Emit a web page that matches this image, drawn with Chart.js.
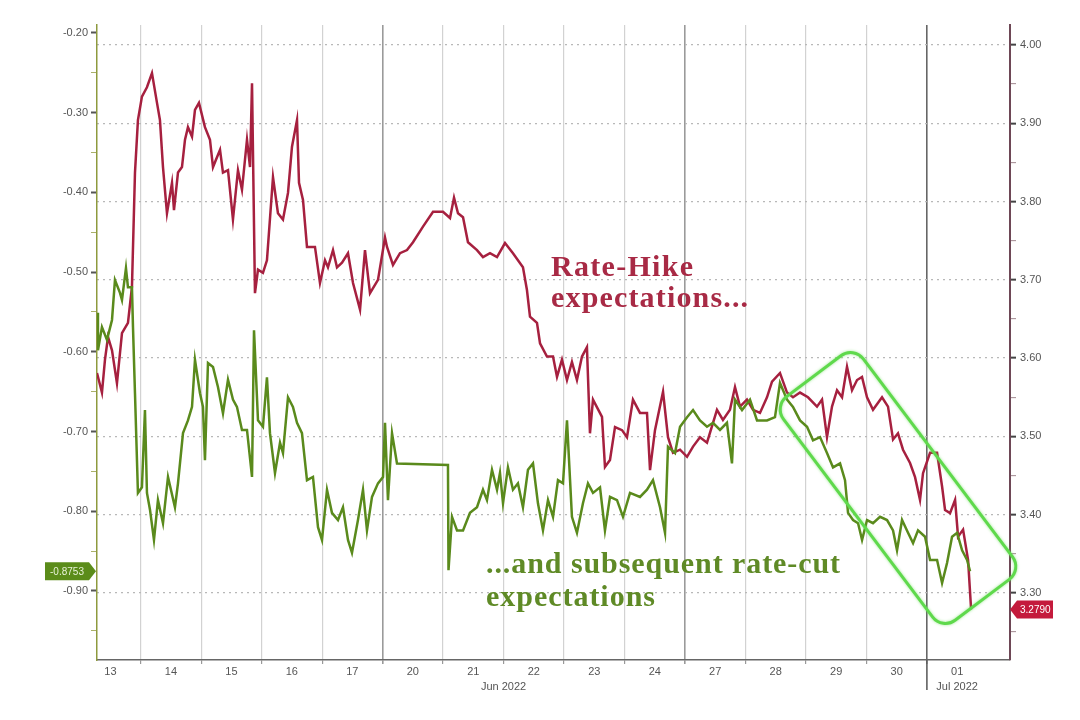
<!DOCTYPE html>
<html>
<head>
<meta charset="utf-8">
<script src="https://cdn.jsdelivr.net/npm/chart.js@4.4.1/dist/chart.umd.min.js"></script>
<style>
  html, body { margin: 0; padding: 0; background: #ffffff; }
  #wrap { position: relative; width: 1080px; height: 720px; }
</style>
</head>
<body>
<div id="wrap"><canvas id="c"></canvas></div>
<script>
// ---- Data (x = trading-day position, 0 = start of 13 Jun) ----
const dayLabels = ['13','14','15','16','17','20','21','22','23','24','27','28','29','30','01'];
const monthLabels = ['Jun 2022', 'Jul 2022'];
const monthLabelDayPos = [7, 14.5];
const monthBoundary = 14;
const weekBoundaries = [5, 10];

const leftTickLabels = [-0.20, -0.30, -0.40, -0.50, -0.60, -0.70, -0.80, -0.90];
const rightTickLabels = [4.00, 3.90, 3.80, 3.70, 3.60, 3.50, 3.40, 3.30];

// Rate-hike expectations (right axis)
const redT = [0.278,0.360,0.410,0.460,0.526,0.608,0.691,0.790,0.856,0.906,
0.955,1.021,1.104,1.187,1.270,1.319,1.369,1.435,1.518,1.551,
1.617,1.683,1.733,1.782,1.849,1.898,1.964,2.063,2.146,2.196,
2.312,2.361,2.444,2.526,2.609,2.675,2.758,2.808,2.841,2.890,
2.940,3.022,3.088,3.188,3.270,3.353,3.436,3.502,3.585,3.618,
3.684,3.750,3.882,3.965,4.048,4.097,4.180,4.246,4.329,4.428,
4.511,4.627,4.709,4.792,4.924,5.040,5.073,5.172,5.288,5.404,
5.503,5.668,5.834,5.999,6.115,6.181,6.247,6.330,6.412,6.561,
6.660,6.776,6.892,7.024,7.156,7.321,7.387,7.437,7.553,7.603,
7.718,7.818,7.884,7.966,8.049,8.131,8.214,8.297,8.379,8.429,
8.479,8.628,8.677,8.760,8.843,8.959,9.041,9.140,9.256,9.372,
9.422,9.504,9.637,9.719,9.802,9.918,10.034,10.133,10.248,10.364,
10.529,10.628,10.744,10.827,10.910,11.025,11.125,11.240,11.356,11.439,
11.571,11.687,11.786,11.902,12.034,12.183,12.266,12.348,12.431,12.514,
12.597,12.679,12.762,12.845,12.927,13.010,13.109,13.258,13.357,13.440,
13.522,13.605,13.721,13.804,13.886,13.936,14.052,14.168,14.251,14.300,
14.383,14.466,14.515,14.598,14.681,14.731];
const redV = [3.581,3.556,3.598,3.627,3.610,3.568,3.632,3.645,3.691,3.837,
3.904,3.934,3.946,3.964,3.926,3.904,3.844,3.785,3.824,3.789,
3.837,3.844,3.879,3.895,3.883,3.917,3.926,3.895,3.879,3.844,
3.866,3.837,3.840,3.777,3.840,3.815,3.879,3.844,3.951,3.683,
3.713,3.709,3.725,3.831,3.785,3.777,3.811,3.870,3.904,3.824,
3.802,3.742,3.742,3.696,3.725,3.716,3.738,3.716,3.722,3.734,
3.696,3.662,3.738,3.683,3.700,3.754,3.742,3.719,3.734,3.738,
3.748,3.768,3.787,3.787,3.779,3.805,3.785,3.780,3.748,3.738,
3.729,3.734,3.729,3.747,3.734,3.716,3.687,3.653,3.645,3.619,
3.602,3.602,3.576,3.598,3.572,3.595,3.572,3.602,3.614,3.504,
3.547,3.525,3.461,3.470,3.512,3.508,3.499,3.547,3.530,3.530,
3.457,3.508,3.557,3.499,3.479,3.483,3.474,3.487,3.499,3.492,
3.534,3.521,3.534,3.563,3.538,3.547,3.534,3.530,3.550,3.570,
3.581,3.556,3.550,3.556,3.550,3.538,3.547,3.499,3.538,3.559,
3.550,3.589,3.559,3.572,3.576,3.550,3.534,3.550,3.538,3.496,
3.504,3.483,3.466,3.448,3.419,3.453,3.479,3.479,3.436,3.406,
3.402,3.419,3.372,3.381,3.342,3.279];

// Subsequent rate-cut expectations (left axis)
const greenT = [0.278,0.294,0.360,0.443,0.526,0.575,0.658,0.691,0.757,0.790,
0.856,0.873,0.906,0.955,1.021,1.071,1.104,1.154,1.220,1.286,
1.369,1.452,1.567,1.617,1.700,1.782,1.849,1.898,1.981,2.030,
2.063,2.113,2.196,2.278,2.361,2.444,2.526,2.592,2.675,2.758,
2.841,2.874,2.940,3.022,3.088,3.138,3.221,3.304,3.353,3.436,
3.518,3.585,3.667,3.750,3.849,3.932,3.998,4.081,4.163,4.263,
4.345,4.428,4.494,4.593,4.676,4.742,4.825,4.924,5.007,5.040,
5.089,5.156,5.238,6.081,6.090,6.148,6.231,6.330,6.445,6.561,
6.660,6.726,6.809,6.892,6.941,6.991,7.073,7.156,7.238,7.321,
7.404,7.487,7.569,7.652,7.735,7.818,7.900,7.983,8.049,8.131,
8.214,8.313,8.396,8.479,8.595,8.677,8.760,8.876,8.975,9.091,
9.256,9.372,9.471,9.587,9.670,9.719,9.835,9.918,10.034,10.133,
10.248,10.364,10.463,10.579,10.694,10.777,10.827,10.943,11.075,11.191,
11.356,11.488,11.571,11.687,11.786,11.902,12.018,12.117,12.233,12.348,
12.448,12.564,12.646,12.696,12.779,12.862,12.928,13.010,13.109,13.225,
13.341,13.440,13.506,13.589,13.688,13.771,13.853,13.969,14.052,14.168,
14.251,14.333,14.416,14.499,14.582,14.664,14.714];
const greenV = [-0.551,-0.598,-0.569,-0.585,-0.560,-0.510,-0.526,-0.535,-0.495,-0.519,
-0.519,-0.569,-0.652,-0.777,-0.770,-0.673,-0.777,-0.798,-0.836,-0.786,
-0.815,-0.757,-0.795,-0.765,-0.702,-0.686,-0.669,-0.610,-0.652,-0.669,
-0.736,-0.614,-0.619,-0.644,-0.677,-0.635,-0.660,-0.669,-0.698,-0.698,
-0.757,-0.573,-0.686,-0.694,-0.632,-0.702,-0.752,-0.714,-0.727,-0.657,
-0.669,-0.689,-0.702,-0.761,-0.757,-0.820,-0.836,-0.773,-0.802,-0.811,
-0.795,-0.836,-0.852,-0.811,-0.773,-0.824,-0.782,-0.765,-0.757,-0.689,
-0.786,-0.702,-0.740,-0.742,-0.874,-0.807,-0.824,-0.824,-0.802,-0.795,
-0.773,-0.786,-0.748,-0.773,-0.752,-0.790,-0.745,-0.773,-0.765,-0.795,
-0.748,-0.740,-0.790,-0.824,-0.786,-0.807,-0.761,-0.765,-0.686,-0.807,
-0.827,-0.790,-0.765,-0.777,-0.770,-0.824,-0.782,-0.786,-0.807,-0.777,
-0.782,-0.773,-0.761,-0.795,-0.827,-0.719,-0.727,-0.694,-0.682,-0.673,
-0.686,-0.694,-0.689,-0.698,-0.689,-0.740,-0.660,-0.673,-0.660,-0.686,
-0.686,-0.682,-0.639,-0.660,-0.669,-0.686,-0.694,-0.711,-0.707,-0.727,
-0.745,-0.740,-0.761,-0.802,-0.811,-0.815,-0.836,-0.811,-0.815,-0.807,
-0.811,-0.824,-0.849,-0.811,-0.827,-0.840,-0.824,-0.832,-0.861,-0.861,
-0.890,-0.865,-0.832,-0.827,-0.849,-0.861,-0.8753];

const redLast = '3.2790';
const greenLast = '-0.8753';
const redNote = ['Rate-Hike', 'expectations...'];
const greenNote = ['...and subsequent rate-cut', 'expectations'];

// ---- Build ----
const RED = '#a6203f';
const GREEN = '#5a8a1c';
const TICKFONT = { family: 'Liberation Sans, Arial, sans-serif', size: 11 };

function withMinor(major) {
  const out = major.slice();
  for (let i = 0; i < major.length - 1; i++) out.push((major[i] + major[i + 1]) / 2);
  out.push(major[major.length - 1] - (major[0] - major[1]) / 2);
  return out;
}
const isMajor = (v, arr) => arr.some(a => Math.abs(a - v) < 1e-6);

const xTickVals = [];
for (let i = 0; i < dayLabels.length; i++) {
  if (i > 0) xTickVals.push(i);
  xTickVals.push(i + 0.5);
}

const overlay = {
  id: 'overlay',
  afterDraw(chart) {
    const ctx = chart.ctx;
    const xs = chart.scales.x, yL = chart.scales.yL, yR = chart.scales.yR;
    const area = chart.chartArea;
    ctx.save();
    // long tick at month boundary
    const mx = xs.getPixelForValue(monthBoundary);
    ctx.strokeStyle = '#555'; ctx.lineWidth = 1.5;
    ctx.beginPath(); ctx.moveTo(mx, xs.top); ctx.lineTo(mx, xs.top + 30); ctx.stroke();

    // last value tags
    const gy = yL.getPixelForValue(greenV[greenV.length - 1]);
    const lx = area.left;
    ctx.fillStyle = '#5b8c1a';
    ctx.beginPath();
    ctx.moveTo(lx - 1, gy); ctx.lineTo(lx - 8, gy - 9); ctx.lineTo(lx - 52, gy - 9);
    ctx.lineTo(lx - 52, gy + 9); ctx.lineTo(lx - 8, gy + 9); ctx.closePath(); ctx.fill();
    ctx.fillStyle = '#e8f2d8'; ctx.font = '10px Liberation Sans, Arial, sans-serif';
    ctx.textAlign = 'center'; ctx.textBaseline = 'middle';
    ctx.fillText(greenLast, lx - 30, gy + 0.5);

    const ry = yR.getPixelForValue(redV[redV.length - 1]);
    const rx = area.right;
    ctx.save();
    ctx.beginPath(); ctx.rect(rx, ry - 20, 43, 40); ctx.clip();
    ctx.fillStyle = '#c41a3c';
    ctx.beginPath();
    ctx.moveTo(rx, ry); ctx.lineTo(rx + 7, ry - 9); ctx.lineTo(rx + 52, ry - 9);
    ctx.lineTo(rx + 52, ry + 9); ctx.lineTo(rx + 7, ry + 9); ctx.closePath(); ctx.fill();
    ctx.fillStyle = '#ffffff'; ctx.textAlign = 'left';
    ctx.fillText(redLast, rx + 10, ry + 0.5);
    ctx.restore();

    // annotation texts (serif, spaced out to the reference widths)
    const serif = 'Liberation Serif, Times New Roman, serif';
    function drawSpaced(text, x, y, target, size) {
      ctx.font = 'bold ' + size + 'px ' + serif;
      ctx.letterSpacing = '0px';
      const w = ctx.measureText(text).width;
      const sp = Math.max(0, (target - w) / Math.max(1, text.length - 1));
      ctx.letterSpacing = sp.toFixed(2) + 'px';
      ctx.fillText(text, x, y);
      ctx.letterSpacing = '0px';
    }
    ctx.textAlign = 'left'; ctx.textBaseline = 'alphabetic';
    ctx.fillStyle = '#a82a45';
    drawSpaced(redNote[0], 551, 276, 142, 30);
    drawSpaced(redNote[1], 551, 307, 197, 30);
    ctx.fillStyle = '#5f8a26';
    drawSpaced(greenNote[0], 486, 573, 354, 30);
    drawSpaced(greenNote[1], 486, 606, 169, 30);

    // highlight box
    ctx.translate(898, 488);
    ctx.rotate(53 * Math.PI / 180);
    ctx.strokeStyle = '#5fd94c'; ctx.lineWidth = 3;
    ctx.shadowColor = 'rgba(95,217,76,0.6)'; ctx.shadowBlur = 3;
    ctx.beginPath();
    ctx.roundRect(-140, -50, 280, 100, 16);
    ctx.stroke();
    ctx.restore();
  }
};

const chart = new Chart(document.getElementById('c'), {
  type: 'line',
  data: {
    datasets: [
      {
        label: 'Rate-cut expectations',
        data: greenT.map((t, i) => ({ x: t, y: greenV[i] })),
        yAxisID: 'yL',
        borderColor: GREEN, borderWidth: 2.5, pointRadius: 0, tension: 0, fill: false
      },
      {
        label: 'Rate-hike expectations',
        data: redT.map((t, i) => ({ x: t, y: redV[i] })),
        yAxisID: 'yR',
        borderColor: RED, borderWidth: 2.5, pointRadius: 0, tension: 0, fill: false
      }
    ]
  },
  options: {
    responsive: true,
    maintainAspectRatio: false,
    animation: false,
    layout: { padding: { top: 25, left: 0, right: 0, bottom: 0 } },
    plugins: { legend: { display: false }, tooltip: { enabled: false } },
    scales: {
      x: {
        type: 'linear', position: 'bottom', min: 0.278, max: 15.374,
        afterBuildTicks: s => { s.ticks = xTickVals.map(v => ({ value: v })); },
        afterFit: s => { s.height = 60; },
        ticks: {
          autoSkip: false, maxRotation: 0, minRotation: 0, padding: 0,
          color: '#555', font: { ...TICKFONT, lineHeight: 1.4 },
          callback: v => {
            if (Number.isInteger(v)) {
              const mi = monthLabelDayPos.indexOf(v);
              return mi >= 0 ? ['', monthLabels[mi]] : '';
            }
            const idx = Math.round(v - 0.5);
            const mi = monthLabelDayPos.indexOf(v);
            return mi >= 0 ? [dayLabels[idx], monthLabels[mi]] : dayLabels[idx];
          }
        },
        grid: {
          drawOnChartArea: true, tickLength: 4,
          color: c => {
            const v = c.tick ? c.tick.value : 0;
            if (!Number.isInteger(v)) return 'rgba(0,0,0,0)';
            if (v === monthBoundary) return '#666';
            if (weekBoundaries.includes(v)) return '#9a9a9a';
            return '#d2d2d2';
          },
          lineWidth: c => {
            const v = c.tick ? c.tick.value : 0;
            return (v === monthBoundary || weekBoundaries.includes(v)) ? 1.6 : 1.2;
          },
          tickColor: c => {
            const v = c.tick ? c.tick.value : 0;
            return Number.isInteger(v) ? '#999' : 'rgba(0,0,0,0)';
          }
        },
        border: { display: true, color: '#666', width: 1.5 }
      },
      yL: {
        type: 'linear', position: 'left', min: -0.9866, max: -0.19,
        afterBuildTicks: s => { s.ticks = withMinor(leftTickLabels).map(v => ({ value: v })); },
        afterFit: s => { s.width = 97; },
        ticks: {
          color: '#555', font: TICKFONT, padding: 3, autoSkip: false,
          callback: v => isMajor(v, leftTickLabels) ? v.toFixed(2) : ''
        },
        grid: {
          drawOnChartArea: false, tickLength: 6,
          tickColor: c => (c.tick && isMajor(c.tick.value, leftTickLabels)) ? '#555' : '#aab06a',
          tickWidth: c => (c.tick && isMajor(c.tick.value, leftTickLabels)) ? 2 : 1
        },
        border: { display: true, color: '#8e9a3e', width: 1.5 }
      },
      yR: {
        type: 'linear', position: 'right', min: 3.2144, max: 4.0255,
        afterBuildTicks: s => { s.ticks = withMinor(rightTickLabels).map(v => ({ value: v })); },
        afterFit: s => { s.width = 70; },
        ticks: {
          color: '#555', font: TICKFONT, padding: 4, autoSkip: false,
          callback: v => isMajor(v, rightTickLabels) ? v.toFixed(2) : ''
        },
        grid: {
          drawOnChartArea: true, tickLength: 6,
          color: c => (c.tick && isMajor(c.tick.value, rightTickLabels)) ? '#b8b8b8' : 'rgba(0,0,0,0)',
          lineWidth: 1.3,
          tickColor: c => (c.tick && isMajor(c.tick.value, rightTickLabels)) ? '#444' : '#a08890',
          tickWidth: c => (c.tick && isMajor(c.tick.value, rightTickLabels)) ? 2 : 1
        },
        border: { display: true, color: '#6e4856', width: 2, dash: [2, 4] }
      }
    }
  },
  plugins: [overlay]
});
</script>
</body>
</html>
